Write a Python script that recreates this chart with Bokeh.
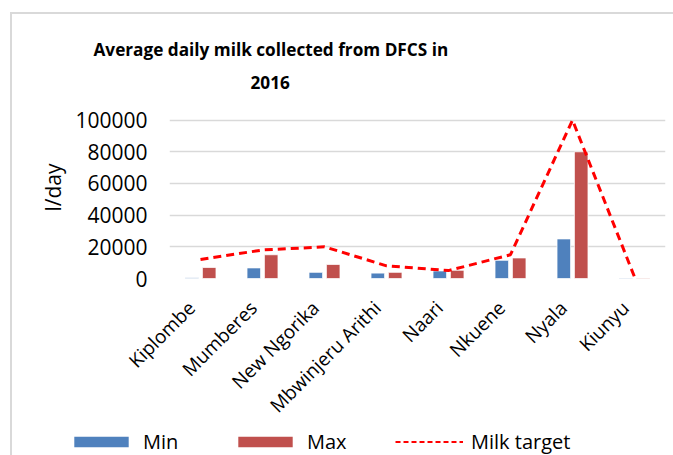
from bokeh.plotting import figure
from bokeh.models import (Range1d, FixedTicker, Legend, LegendItem, Title,
                          ColumnDataSource)
from bokeh.transform import dodge
from bokeh.embed import file_html
from bokeh.resources import INLINE
from math import pi

categories = ["Kiplombe", "Mumberes", "New Ngorika", "Mbwinjeru Arithi",
              "Naari", "Nkuene", "Nyala", "Kiunyu"]
min_vals = [500, 6700, 3900, 3400, 4800, 11500, 25000, 300]
max_vals = [7000, 15000, 8900, 3900, 5200, 13000, 80000, 300]
target_vals = [12000, 18000, 20000, 8000, 5000, 15000, 100000, 1000]
y_ticks = [0, 20000, 40000, 60000, 80000, 100000]

title_lines = ["Average daily milk collected from DFCS in", "2016"]
y_label = "l/day"
legend_labels = ["Min", "Max", "Milk target"]

FONT = "Open Sans"
BLUE = "#4F81BD"
RED = "#C0504D"
GRID = "#D9D9D9"

n = len(categories)
pos = [i + 0.5 for i in range(n)]          # category slot centres
src = ColumnDataSource(dict(pos=pos, mn=min_vals, mx=max_vals, tg=target_vals))

# ---------------- main chart ----------------
p = figure(width=673, height=430, x_range=Range1d(0, n), title=None,
           y_range=Range1d(0, 114900), output_backend="svg",
           toolbar_location=None,
           min_border_left=169, min_border_right=8,
           min_border_top=96, min_border_bottom=149)
p.outline_line_color = None
p.background_fill_color = "white"
p.border_fill_color = None
p.styles = {
    "background": ("linear-gradient(#D9D9D9, #D9D9D9) 10px 12px / 2px 100% no-repeat, "
                   "linear-gradient(#D9D9D9, #D9D9D9) 10px 12px / 100% 2px no-repeat, "
                   "#FFFFFF")
}

r_min = p.vbar(x=dodge("pos", -0.14), top="mn", width=0.22,
               source=src, fill_color=BLUE, line_color="white", line_width=0.8)
r_max = p.vbar(x=dodge("pos", 0.14), top="mx", width=0.22,
               source=src, fill_color=RED, line_color="white", line_width=0.8)
r_tg = p.line(x="pos", y="tg", source=src, line_color="#FF0000",
              line_width=3, line_dash="8 5")

# y axis
p.yaxis.ticker = FixedTicker(ticks=y_ticks)
p.yaxis.axis_line_color = None
p.yaxis.major_tick_line_color = None
p.yaxis.minor_tick_line_color = None
p.yaxis.major_tick_out = 0
p.yaxis.major_tick_in = 0
p.yaxis.minor_tick_out = 0
p.yaxis.major_label_standoff = 22
p.yaxis.major_label_text_font = FONT
p.yaxis.major_label_text_font_size = "21px"
p.yaxis.major_label_text_color = "#000000"
p.yaxis.axis_label = y_label
p.yaxis.axis_label_text_font = FONT
p.yaxis.axis_label_text_font_size = "21px"
p.yaxis.axis_label_text_font_style = "normal"
p.yaxis.axis_label_text_color = "#000000"
p.yaxis.axis_label_standoff = 5
p.yaxis.formatter.use_scientific = False

# x axis: category names at each slot (anchor nudged so the rotated text ends at the slot)
lab_ticks = [round(v - 0.145, 3) for v in pos]
p.xaxis.ticker = FixedTicker(ticks=lab_ticks)
p.xaxis.major_label_overrides = {t: c for t, c in zip(lab_ticks, categories)}
p.xaxis.axis_line_color = None
p.xaxis.major_tick_line_color = None
p.xaxis.minor_tick_line_color = None
p.xaxis.major_tick_out = 0
p.xaxis.major_tick_in = 0
p.xaxis.minor_tick_out = 0
p.xaxis.minor_tick_in = 0
p.xaxis.major_label_orientation = pi / 4
p.xaxis.major_label_standoff = 26
p.xaxis.major_label_text_font = FONT
p.xaxis.major_label_text_font_size = "19px"
p.xaxis.major_label_text_color = "#000000"

p.xgrid.grid_line_color = None
p.ygrid.grid_line_color = GRID
p.ygrid.grid_line_width = 1.5
p.ygrid.ticker = FixedTicker(ticks=y_ticks)

# title: second line nearest the plot, first line above it
p.add_layout(Title(text=title_lines[1], align="left", offset=81, standoff=16,
                   text_font=FONT, text_font_size="17.2px", text_font_style="bold",
                   text_color="#000000"), "above")
p.add_layout(Title(text=title_lines[0], align="left", offset=-76, standoff=10,
                   text_font=FONT, text_font_size="17.2px", text_font_style="bold",
                   text_color="#000000"), "above")

# ---------------- legend strip (separate root, frame spans the whole strip) ----------------
lg = figure(width=673, height=25, x_range=Range1d(0, 1), y_range=Range1d(0, 1),
            output_backend="svg", toolbar_location=None, title=None,
            x_axis_location=None, y_axis_location=None,
            min_border_left=0, min_border_right=0, min_border_top=0,
            min_border_bottom=0)
lg.grid.visible = False
lg.outline_line_color = None
lg.background_fill_color = None
lg.border_fill_color = None
lg.styles = {"background": ("linear-gradient(#D9D9D9, #D9D9D9) 10px 0px / 2px 100% no-repeat, "
                            "#FFFFFF")}
nan = float("nan")
k_min = lg.vbar(x=[nan], top=[nan], width=0.2, fill_color=BLUE, line_color=None)
k_max = lg.vbar(x=[nan], top=[nan], width=0.2, fill_color=RED, line_color=None)
k_tg = lg.line(x=[nan], y=[nan], line_color="#FF0000", line_width=2, line_dash="5 3")

legend = Legend(items=[LegendItem(label=legend_labels[0], renderers=[k_min]),
                       LegendItem(label=legend_labels[1], renderers=[k_max]),
                       LegendItem(label=legend_labels[2], renderers=[k_tg])],
                orientation="horizontal", location=(67, 0),
                glyph_width=68, glyph_height=13, label_standoff=8,
                label_width=88, spacing=0, padding=0, margin=0,
                border_line_color=None, background_fill_alpha=0,
                label_text_font=FONT, label_text_font_size="20px",
                label_text_color="#000000")
lg.add_layout(legend, "center")

open("out.html", "w").write(file_html([p, lg], INLINE))
